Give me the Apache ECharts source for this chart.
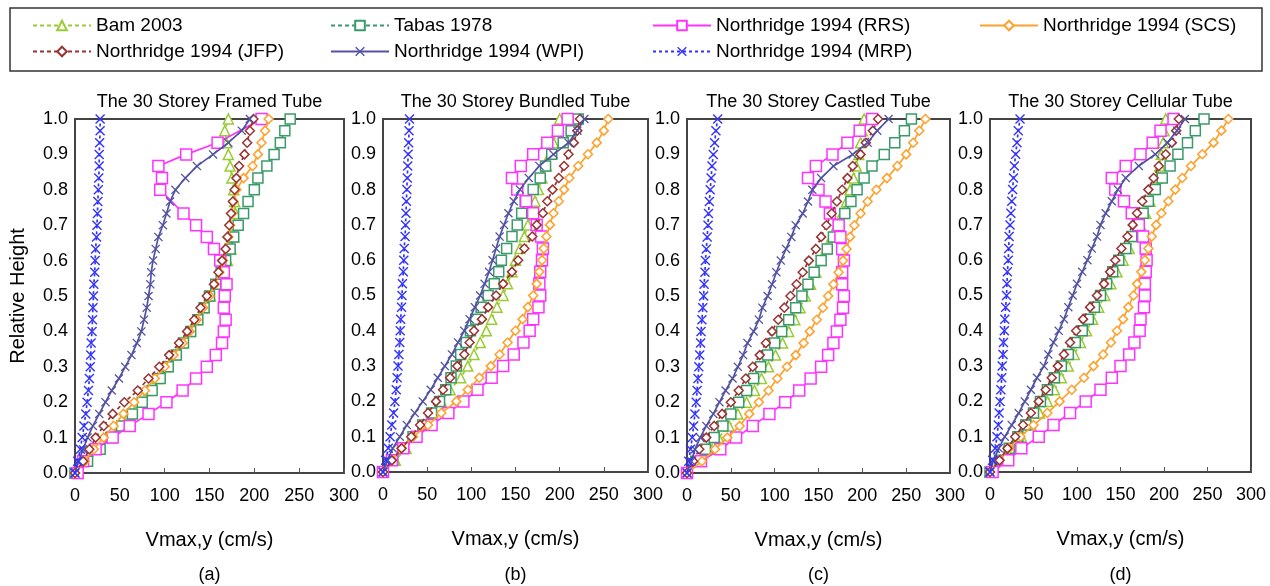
<!DOCTYPE html>
<html>
<head>
<meta charset="utf-8">
<script src="https://cdn.jsdelivr.net/npm/echarts@6/dist/echarts.min.js"></script>
<style>html,body{margin:0;padding:0;background:#fff}#c{width:1270px;height:586px}</style>
</head>
<body>
<div id="c"></div>
<script>
// Relative height of each storey level (0..30 of 30)
const heights = [0.000,0.033,0.067,0.100,0.133,0.167,0.200,0.233,0.267,0.300,0.333,0.367,0.400,0.433,0.467,0.500,0.533,0.567,0.600,0.633,0.667,0.700,0.733,0.767,0.800,0.833,0.867,0.900,0.933,0.967,1.000];
const xTicks = [0,50,100,150,200,250,300];
const seriesNames = ['Bam 2003','Tabas 1978','Northridge 1994 (RRS)','Northridge 1994 (SCS)','Northridge 1994 (JFP)','Northridge 1994 (WPI)','Northridge 1994 (MRP)'];
const panelTitles = ['The 30 Storey Framed Tube','The 30 Storey Bundled Tube','The 30 Storey Castled Tube','The 30 Storey Cellular Tube'];
const panelLetters = ['(a)','(b)','(c)','(d)'];

// (a) Framed tube
const framedBam   = [0,13,26,38,50,61,72,82,92,101,110,119,127,135,144,151,159,165,170,174,177,178,179,178,177,175,173,171,169,167,171];
const framedTabas = [0,14,28,40,52,64,75,86,95,104,113,121,129,137,144,150,157,163,168,173,177,182,188,193,200,204,214,222,229,234,240];
const framedRRS   = [3,9,23,42,61,82,102,120,135,147,157,164,166,168,166,167,169,166,162,155,147,135,121,null,95,97,93,124,159,null,208];
const framedSCS   = [0,11,21,32,43,54,66,78,89,100,110,120,128,136,143,150,156,161,165,168,171,173,175,177,180,188,198,204,208,212,216];
const framedJFP   = [0,9,16,23,32,42,55,70,82,94,105,116,125,133,140,147,155,160,164,168,170,172,174,176,178,180,183,189,192,195,199];
const framedWPI   = [0,4,9,14,20,27,34,41,49,56,63,69,74,77,80,82,84,85,87,90,93,98,102,106,112,123,136,154,171,186,195];
const framedMRP   = [0,3,6,8,10,12,13.5,15,16,17,17.5,18,19,19.5,20,20.5,21,22,22.5,23,24,24.5,25,25.5,26,26.5,27,27,27.5,28,28];

// (b) Bundled tube
const bundledBam   = [0,14,26,36,46,56,66,76,88,96,103,110,117,123,129,136,141,146,150,155,160,164,168,172,176,180,185,189,193,197,200];
const bundledTabas = [0,11,23,34,45,55,64,71,77,83,88,94,99,105,111,119,126,131,134,140,146,152,157,161,170,178,184,191,204,213,221];
const bundledRRS   = [0,10,23,38,55,74,91,107,123,136,148,159,166,170,176,178,177,178,180,181,179,174,170,162,152,146,156,170,186,198,209];
const bundledSCS   = [0,10,21,34,51,66,83,96,109,122,132,141,150,158,164,170,174,177,180,182,185,189,193,199,205,211,221,232,242,250,255];
const bundledJFP   = [0,10,21,32,42,51,60,68,76,84,92,98,103,112,119,128,136,146,153,160,169,174,181,186,192,199,205,210,216,220,223];
const bundledWPI   = [0,5,11,19,27,36,45,54,62,70,78,85,92,98,104,110,115,120,124,128,132,137,142,148,155,165,177,193,210,220,228];
const bundledMRP   = [0,3,6,8,10,12,13.5,15,16,17,18,19,19.5,20,21,21.5,22,23,23.5,24,25,25.5,26,26.5,27,27.5,28,28.5,29,29.5,30];

// (c) Castled tube
const castledBam   = [0,12,24,36,48,58,68,77,85,93,101,109,116,123,129,135,141,147,153,159,165,171,177,182,186,190,193,196,198,200,202];
const castledTabas = [0,10,21,31,41,50,59,68,76,84,92,100,108,116,124,131,138,145,153,160,167,173,180,187,194,202,211,225,237,248,256];
const castledRRS   = [0,16,38,56,75,94,112,128,141,153,161,167,171,175,178,179,177,177,179,177,175,173,163,158,150,138,147,166,183,197,211];
const castledSCS   = [0,17,32,46,60,71,82,93,103,114,124,133,140,148,155,161,167,173,178,182,186,191,198,206,216,228,240,250,258,265,272];
const castledJFP   = [0,7,14,22,31,40,50,59,67,75,83,90,97,104,111,118,125,132,139,147,153,159,165,171,177,183,189,198,204,212,218];
const castledWPI   = [0,5,9,15,22,30,37,44,52,58,64,69,76,82,86,92,97,102,107,113,119,124,132,138,143,153,167,189,206,217,230];
const castledMRP   = [0,2,4,6,7.5,9,10.5,11.5,12.5,13.5,14.5,15.5,16,17,18,19,19.5,20.5,21,22,23,24,24.5,25.5,26.5,27.5,28.5,30,31.5,33,35];

// (d) Cellular tube
const cellularBam   = [0,12,24,36,47,57,66,74,82,90,97,104,111,118,125,132,139,146,153,160,167,173,179,184,188,192,195,197,199,200,202];
const cellularTabas = [0,11,22,32,41,50,58,66,74,82,90,98,106,113,120,127,134,141,148,156,163,170,176,182,190,198,207,216,227,236,246];
const cellularRRS   = [3,21,36,56,73,92,110,127,140,150,160,166,172,173,177,178,178,179,180,179,176,171,163,154,144,140,156,173,187,196,211];
const cellularSCS   = [0,10,22,35,50,66,80,94,108,119,130,139,146,153,159,165,169,174,178,182,186,191,197,205,213,221,231,244,257,266,274];
const cellularJFP   = [0,11,20,29,38,47,56,64,71,78,85,92,99,107,115,123,131,138,144,151,158,164,169,175,182,188,194,202,209,214,217];
const cellularWPI   = [0,4,10,17,25,33,40,47,54,62,67,73,79,85,90,95,100,106,112,117,123,127,133,140,147,156,171,190,204,215,224];
const cellularMRP   = [0,3,6,8,9.5,10.5,11.5,12.5,13.5,14,15,15.5,16.5,17,18,19,19.5,20,21,21.5,22,23,24,25,26,27,28,29.5,31,32.5,34.5];

const panels = [
  [framedBam, framedTabas, framedRRS, framedSCS, framedJFP, framedWPI, framedMRP],
  [bundledBam, bundledTabas, bundledRRS, bundledSCS, bundledJFP, bundledWPI, bundledMRP],
  [castledBam, castledTabas, castledRRS, castledSCS, castledJFP, castledWPI, castledMRP],
  [cellularBam, cellularTabas, cellularRRS, cellularSCS, cellularJFP, cellularWPI, cellularMRP]
];

const FONT = 'Liberation Sans, Arial, sans-serif';
const XSYM = 'path://M0,1L1,0L5,4L9,0L10,1L6,5L10,9L9,10L5,6L1,10L0,9L4,5Z';
const styles = [
  {color:'#99cc33', dash:[4,3], symbol:'triangle', size:10, hollow:true},
  {color:'#3a9a6a', dash:[4,3], symbol:'rect',     size:10, hollow:true},
  {color:'#ff33ff', dash:'solid', symbol:'rect',   size:11, hollow:true},
  {color:'#ffa02a', dash:'solid', symbol:'diamond',size:9,  hollow:true},
  {color:'#993333', dash:[4,3], symbol:'diamond',  size:9,  hollow:true},
  {color:'#5252a3', dash:'solid', symbol:XSYM,     size:9,  hollow:false},
  {color:'#3333ff', dash:[3,3], symbol:XSYM,       size:10, hollow:false}
];

const grids = [
  {left:75,  top:119, width:269, height:354},
  {left:383, top:119, width:265, height:353},
  {left:687, top:119, width:263, height:354},
  {left:990, top:119, width:261, height:353}
];

const xAxes = [], yAxes = [], series = [], graphics = [];
grids.forEach((g, p) => {
  g.show = true; g.borderColor = '#444'; g.borderWidth = 2; g.containLabel = false;
  xAxes.push({
    gridIndex:p, type:'value', min:xTicks[0], max:xTicks[xTicks.length-1], interval:50,
    name:'Vmax,y (cm/s)', nameLocation:'middle', nameGap:57,
    nameTextStyle:{fontSize:20, color:'#000', fontFamily:FONT},
    axisLine:{show:true, lineStyle:{color:'#444', width:2}},
    axisTick:{show:true, inside:true, length:5, lineStyle:{color:'#555'}},
    axisLabel:{fontSize:18, color:'#000', fontFamily:FONT, margin:14},
    splitLine:{show:false}
  });
  yAxes.push({
    gridIndex:p, type:'value', min:0, max:1, interval:0.1,
    axisLine:{show:true, lineStyle:{color:'#444', width:2}},
    axisTick:{show:false},
    axisLabel:{fontSize:18, color:'#000', fontFamily:FONT, margin:7, formatter:v => v.toFixed(1)},
    splitLine:{show:false}
  });
  panels[p].forEach((vals, s) => {
    const st = styles[s];
    const data = [];
    vals.forEach((v, i) => { if (v !== null) data.push([v, heights[i]]); });
    series.push({
      type:'line', name:seriesNames[s], xAxisIndex:p, yAxisIndex:p, data,
      symbol:st.symbol, symbolSize:st.size, showAllSymbol:true,
      lineStyle:{color:st.color, width:1.7, type:st.dash},
      itemStyle: st.hollow ? {color:'#fff', borderColor:st.color, borderWidth:1.5}
                           : {color:st.color, borderWidth:0},
      emphasis:{disabled:true}, z: 2 + s
    });
  });
  const cx = g.left + g.width / 2;
  graphics.push({type:'text', x:cx, y:102, style:{text:panelTitles[p], fontSize:18, fontFamily:FONT, fill:'#000', textAlign:'center', textVerticalAlign:'middle'}});
  graphics.push({type:'text', x:cx, y:575, style:{text:panelLetters[p], fontSize:18, fontFamily:FONT, fill:'#000', textAlign:'center', textVerticalAlign:'middle'}});
});

graphics.push({type:'text', x:18, y:296, rotation:Math.PI/2, style:{text:'Relative Height', fontSize:20, fontFamily:FONT, fill:'#000', textAlign:'center', textVerticalAlign:'middle'}});
graphics.push({type:'rect', shape:{x:10, y:8, width:1252, height:63}, style:{fill:'none', stroke:'#333', lineWidth:1.5}, z:-1});

const legendPos = [[32,16],[330,16],[652,16],[979,16],[32,42],[330,42],[652,42]];
const legends = seriesNames.map((n, i) => ({
  data:[n], left:legendPos[i][0], top:legendPos[i][1], padding:0,
  itemWidth:58, itemHeight:12, itemGap:0, selectedMode:false,
  textStyle:{fontSize:19, fontFamily:FONT, color:'#000'}
}));

const chart = echarts.init(document.getElementById('c'));
chart.setOption({
  animation:false,
  backgroundColor:'#fff',
  legend:legends,
  grid:grids,
  xAxis:xAxes,
  yAxis:yAxes,
  series,
  graphic:graphics
});
</script>
</body>
</html>
